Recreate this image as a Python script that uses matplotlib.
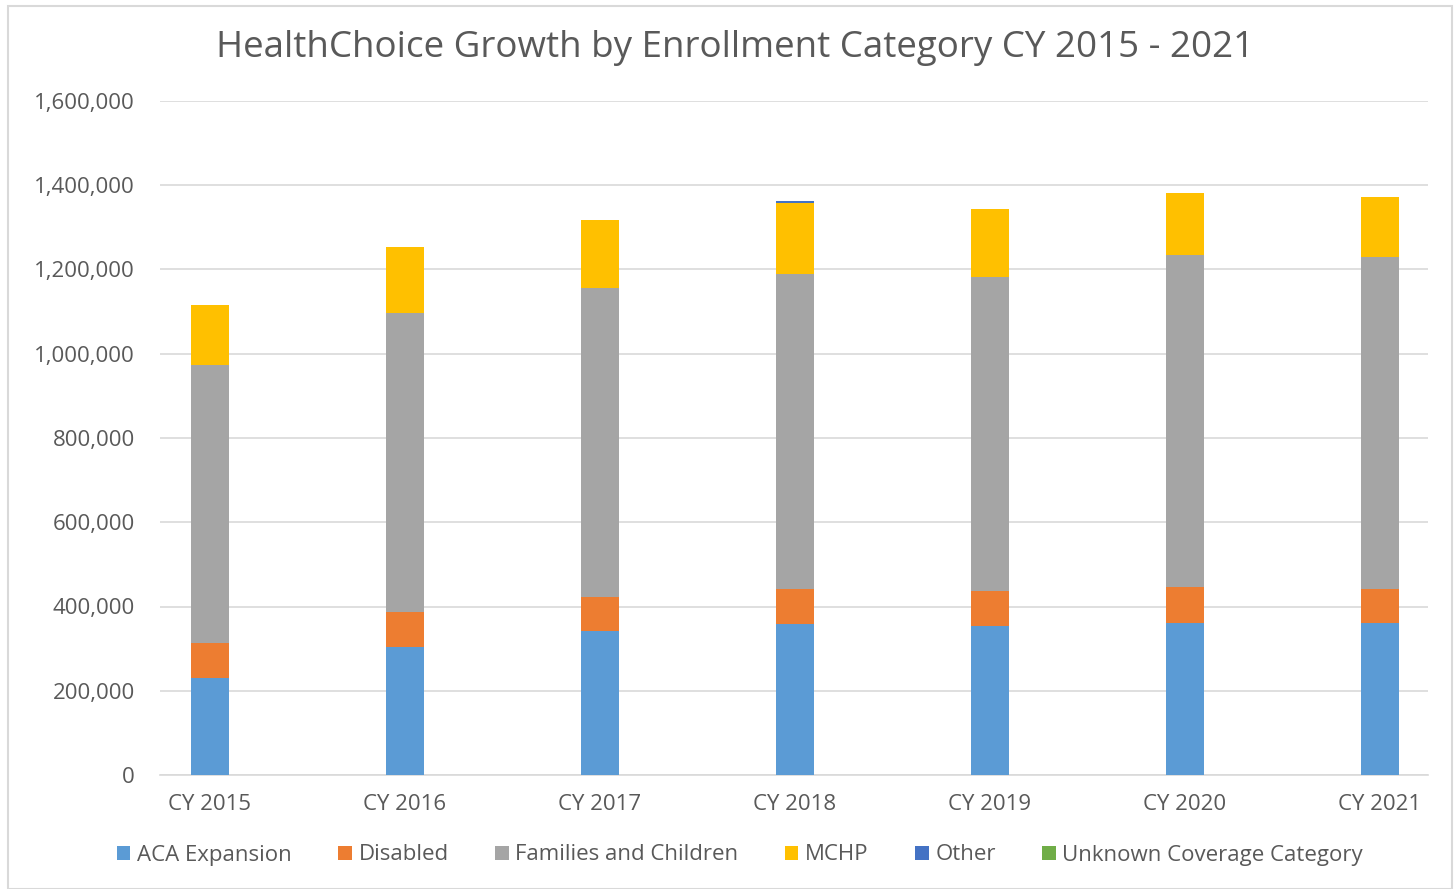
import matplotlib
matplotlib.use("Agg")
import matplotlib.pyplot as plt
import matplotlib.patches as mpatches
from matplotlib.ticker import FuncFormatter
import numpy as np

plt.rcParams['font.family'] = ['Open Sans', 'DejaVu Sans']

categories = ["CY 2015", "CY 2016", "CY 2017", "CY 2018", "CY 2019", "CY 2020", "CY 2021"]
aca = [230000, 304000, 342000, 358000, 354000, 361000, 361000]
disabled = [83000, 83000, 81000, 83000, 83000, 85000, 80000]
families = [660000, 710000, 733000, 748000, 745000, 788000, 788000]
mchp = [143000, 157000, 161000, 168000, 161000, 147000, 142000]
other = [0, 0, 0, 5000, 0, 0, 0]
unknown = [0, 0, 0, 0, 0, 0, 0]

series = [
    ("ACA Expansion", aca, "#5B9BD5"),
    ("Disabled", disabled, "#ED7D31"),
    ("Families and Children", families, "#A5A5A5"),
    ("MCHP", mchp, "#FFC000"),
    ("Other", other, "#4472C4"),
    ("Unknown Coverage Category", unknown, "#70AD47"),
]

fig = plt.figure(figsize=(14.55, 8.89), dpi=100)
ax = fig.add_axes([160/1455, 1-775/889, (1428-160)/1455, (775-101)/889])

x = np.arange(len(categories))
bottom = np.zeros(len(categories))
handles = []
for name, vals, col in series:
    v = np.array(vals, dtype=float)
    b = ax.bar(x, v, width=0.195, bottom=bottom, color=col, label=name, zorder=3)
    bottom += v
    handles.append(b)

ax.set_ylim(0, 1600000)
ax.set_xlim(-50/195, 6 + 48/195)
ax.set_yticks(np.arange(0, 1600001, 200000))
ax.yaxis.set_major_formatter(FuncFormatter(lambda v, p: f"{int(v):,}"))
ax.set_xticks(x)
ax.set_xticklabels(categories)
ax.grid(axis='y', color='#D9D9D9', linewidth=1.2, zorder=0)
for s in ['top', 'right', 'left']:
    ax.spines[s].set_visible(False)
ax.spines['bottom'].set_color('#D9D9D9')
ax.spines['bottom'].set_linewidth(1.2)
ax.tick_params(axis='both', length=0, labelsize=16, labelcolor='#595959')
ax.tick_params(axis='y', pad=18)
ax.tick_params(axis='x', pad=14)

fig.text(735/1455, 1-48/889, "HealthChoice Growth by Enrollment Category CY 2015 - 2021",
         ha='center', va='center', fontsize=26.5, color='#595959')

leg = fig.legend(handles=handles, labels=[s[0] for s in series], loc='center',
                 bbox_to_anchor=(740/1455, 1-855/889), ncol=6, frameon=False,
                 fontsize=16, handlelength=0.6, handleheight=0.6, handletextpad=0.3,
                 columnspacing=2.1, labelcolor='#595959')

fig.patches.append(mpatches.Rectangle((8/1455, 0), (1452-8)/1455, 1-6/889,
                                      transform=fig.transFigure, fill=False,
                                      edgecolor='#D9D9D9', linewidth=1.5))

fig.savefig("out.png", dpi=100, facecolor='white')
